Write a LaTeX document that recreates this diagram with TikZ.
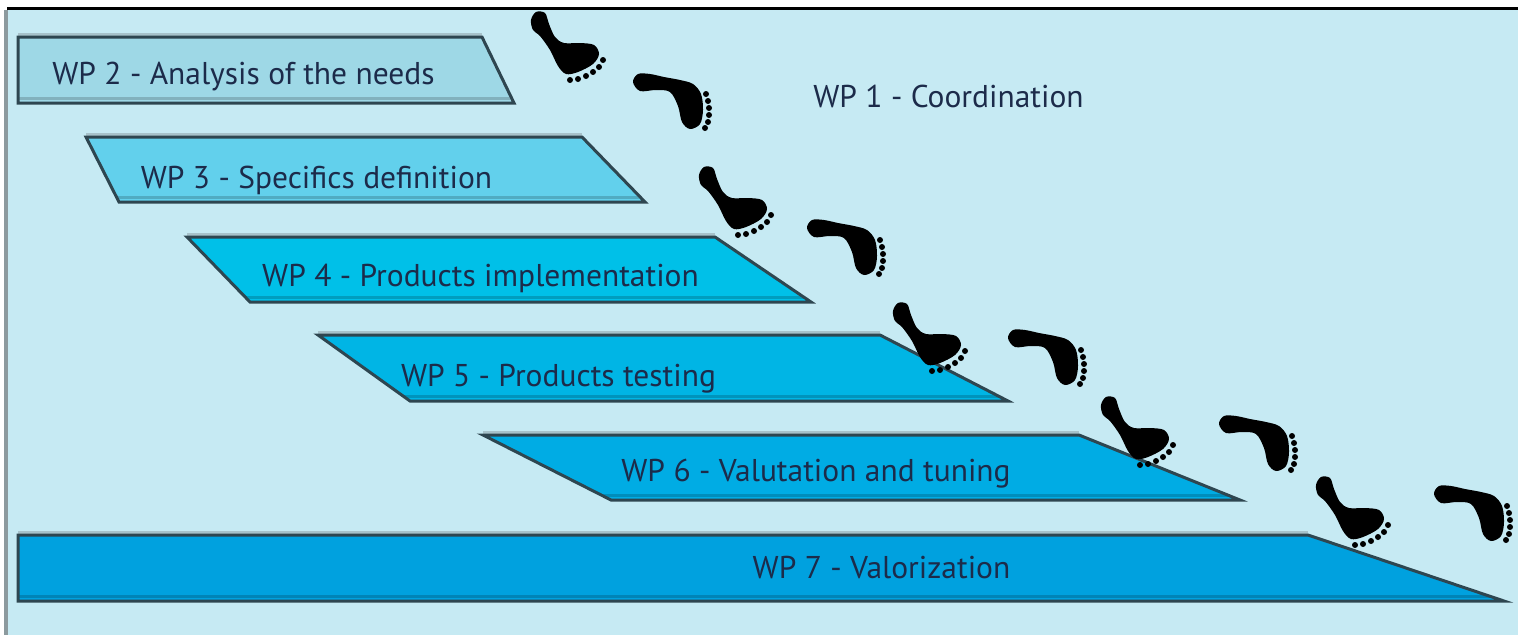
\documentclass[tikz,border=0pt]{standalone}
\usepackage{fontspec}
\setmainfont{PT Sans}
\usetikzlibrary{calc}
\definecolor{bg}{HTML}{C6EAF3}
\definecolor{txt}{HTML}{1C2B4A}
\definecolor{edgec}{HTML}{2E4650}
\definecolor{hlc}{HTML}{A7C2CA}
\definecolor{leftc}{HTML}{8C9A9E}
\definecolor{cwp2}{HTML}{9ED8E6}
\definecolor{cwp3}{HTML}{62D0EC}
\definecolor{cwp4}{HTML}{00C0E8}
\definecolor{cwp5}{HTML}{00B5E5}
\definecolor{cwp6}{HTML}{00ACE4}
\definecolor{cwp7}{HTML}{00A1DF}
\tikzset{
  lbl/.style={font=\fontsize{31.5}{36}\selectfont, text=txt, inner sep=0pt, anchor=base},
  edge/.style={draw=edgec, line width=3pt, line join=miter},
  hl/.style={draw=hlc, line width=3pt},
  footA/.pic={
    \fill[black] plot[smooth cycle, tension=0.55] coordinates {(-9,-2) (-4,-10) (5,-9) (9,2) (15,15) (24,21) (40,21) (54,23) (59,32) (53,42) (38,50) (26,52) (18,44) (10,28) (0,14) (-7,8)};
    \foreach \p in {(30,58),(38,57),(46,54),(53,50),(59,45),(63,38)} \fill[black] \p circle (3);
  },
  footB/.pic={
    \fill[black] plot[smooth cycle, tension=0.55] coordinates {(-11,0) (-6,-8) (6,-8) (20,-5) (36,-2) (49,2) (57,12) (59,28) (56,42) (46,47) (38,40) (34,24) (26,10) (12,8) (-4,9)};
    \foreach \p in {(62,12),(64,19),(65,26),(65,33),(64,40),(61,46)} \fill[black] \p circle (3);
  }
}
\newcommand\wpbox[5]{%
  \fill[#5] #1 -- #2 -- #3 -- #4 -- cycle;
  \draw[line width=3pt, #5!82!black] ($#4!0.07!#1$) -- ($#3!0.07!#2$);
  \draw[hl] ($#1+(0,-3)$) -- ($#2+(0,-3)$);
  \draw[edge] #1 -- #2 -- #3 -- #4 -- cycle;
}
\begin{document}
\begin{tikzpicture}[x=1pt,y=-1pt]
\useasboundingbox (0,0) rectangle (1518,635);
\fill[white] (0,0) rectangle (1518,635);
\fill[bg] (7,9) rectangle (1518,635);
\fill[black] (7,6.5) rectangle (1518,10);
\fill[leftc] (4,10) rectangle (8,635);

% work package shapes
\wpbox{(18,37)}{(482,37)}{(514,103)}{(18,103)}{cwp2}
\wpbox{(86,137)}{(582,137)}{(645,202)}{(119,202)}{cwp3}
\wpbox{(187,237)}{(715,237)}{(811,302)}{(250,302)}{cwp4}
\wpbox{(318,335)}{(880,335)}{(1008,401)}{(410,401)}{cwp5}
\wpbox{(483,435)}{(1079,435)}{(1240,500)}{(611,500)}{cwp6}
\wpbox{(18,535)}{(1308,535)}{(1504,601)}{(18,601)}{cwp7}

% labels
\node[lbl] (wp1) at (948.5,107) {WP 1 - Coordination};
\node[lbl] (wp2) at (243.5,84) {WP 2 - Analysis of the needs};
\node[lbl] (wp3) at (316.5,188) {WP 3 - Specifics definition};
\node[lbl] (wp4) at (480.5,286) {WP 4 - Products implementation};
\node[lbl] (wp5) at (558.5,386) {WP 5 - Products testing};
\node[lbl] (wp6) at (816,481) {WP 6 - Valutation and tuning};
\node[lbl] (wp7) at (881.5,578) {WP 7 - Valorization};

% footprints
\pic at (540,22) {footA};
\pic at (644,82) {footB};
\pic at (708,177) {footA};
\pic at (818,228) {footB};
\pic at (902,313) {footA};
\pic at (1019,338) {footB};
\pic at (1110,407) {footA};
\pic at (1230,424) {footB};
\pic at (1325,487) {footA};
\pic at (1445,494) {footB};
\end{tikzpicture}
\end{document}
